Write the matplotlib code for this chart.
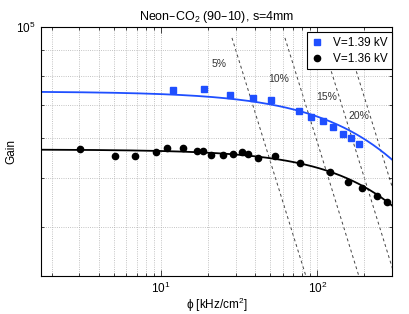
import matplotlib.pyplot as plt
import numpy as np
from matplotlib.ticker import LogLocator, NullFormatter

plt.rcParams['font.family'] = ['Liberation Sans', 'DejaVu Sans']
plt.rcParams['mathtext.default'] = 'regular'

# Data
blue_phi = [11.9, 18.8, 27.5, 38.5, 50.2, 76.4, 91.2, 108, 126, 145, 164, 184]
blue_gain = [74900, 75200, 73300, 72100, 71400, 68000, 66200, 64900, 63300, 61300, 60000, 58600]

black_phi = [3.03, 5.10, 6.78, 9.34, 10.9, 13.9, 16.9, 18.6, 21.0, 24.9, 28.9,
             32.7, 36.1, 41.9, 53.6, 77.4, 120, 156, 194, 240, 279]
black_gain = [57060, 55270, 55270, 56290, 57420, 57320, 56540, 56730, 55640, 55640, 55900,
              56480, 55900, 54950, 55390, 53560, 51390, 49260, 47780, 46070, 44830]

# fit curves  G = G0 / (1 + (phi/p)^n)
blue_fit = (74375, 821, 1.0)
black_fit = (57050, 919, 1.1)

# constant phi*G lines and their labels
drop_k = [2.70e6, 5.89e6, 1.00e7, 1.446e7]
drop_text = ["5%", "10%", "15%", "20%"]
drop_text_phi = [23.5, 56.2, 114.9, 183.1]
drop_text_gain = [84260, 78770, 72670, 66340]

blue = "#1f4fff"

fig = plt.figure(figsize=(4.09, 3.14), dpi=100)
ax = fig.add_axes([0.0995, 0.121, 0.859, 0.794])
ax.set_xscale("log")
ax.set_yscale("log")

# dashed lines
for k in drop_k:
    g = np.array([9.5e4, 3.2e4])
    ax.plot(k / g, g, ls=(0, (3, 3)), color="#444444", lw=0.7, zorder=1)
for t, px, gy in zip(drop_text, drop_text_phi, drop_text_gain):
    ax.text(px, gy, t, fontsize=7.5, ha="center", va="center", color="#333333")

# fits
phi_fit = np.logspace(np.log10(1.7), np.log10(300), 300)
for (g0, p, n), col in [(blue_fit, blue), (black_fit, "black")]:
    ax.plot(phi_fit, g0 / (1 + (phi_fit / p) ** n), color=col, lw=1.3, zorder=2)

# data
ax.plot(blue_phi, blue_gain, "s", color=blue, ms=4, mec=blue, label="V=1.39 kV", zorder=3)
ax.plot(black_phi, black_gain, "o", color="black", ms=4.5, label="V=1.36 kV", zorder=3)

ax.set_xlim(1.7, 300)
ax.set_ylim(3.2e4, 1e5)

for axis in (ax.xaxis, ax.yaxis):
    axis.set_major_locator(LogLocator(base=10))
    axis.set_minor_locator(LogLocator(base=10, subs=np.arange(2, 10)))
    axis.set_minor_formatter(NullFormatter())

ax.grid(True, which="both", ls=":", color="#b0b0b0", lw=0.6)
ax.tick_params(which="both", direction="in", top=True, right=True, width=0.5, labelsize=8.5)
ax.tick_params(which="major", length=4)
ax.tick_params(which="minor", length=2)
for s in ax.spines.values():
    s.set_linewidth(0.8)

ax.set_title("Neon–CO$_2$ (90–10), s=4mm", fontsize=9, pad=5)
ax.set_xlabel("ϕ [kHz/cm$^2$]", fontsize=8.5, labelpad=0)
ax.set_ylabel("Gain", fontsize=8.5, va="center")
ax.yaxis.set_label_coords(-0.083, 0.5)

leg = ax.legend(loc="upper right", bbox_to_anchor=(1.0, 0.977), borderaxespad=0,
                fancybox=False, edgecolor="black", framealpha=1, fontsize=8.5,
                handlelength=1, handletextpad=0.8, borderpad=0.4, labelspacing=0.3)
leg.get_frame().set_linewidth(0.8)

plt.savefig("out.png", dpi=100)
